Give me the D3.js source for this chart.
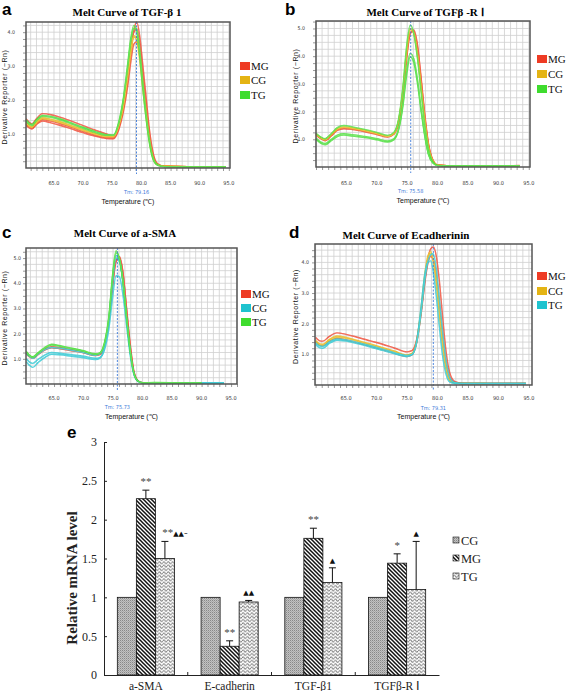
<!DOCTYPE html>
<html><head><meta charset="utf-8">
<script src="https://cdn.jsdelivr.net/npm/d3@7"></script>
<style>body{margin:0;background:#fff}svg{display:block}</style>
</head><body><svg id="chart" width="567" height="691"></svg>
<script>
// ---------------- DATA ----------------
const meltGroups = ["MG", "CG", "TG"];
const meltXTicks = [65, 70, 75, 80, 85, 90, 95];

// Panel a : TGF-β1
const tempA = [60.2,61.2,62.0,63.0,64.5,66,68,70,72,74,75.2,76.1,76.9,77.6,78.2,78.7,79.2,79.7,80.2,80.8,81.4,82,82.8,84,88,94.5];
const meltA_MG = [
  [1.45,1.30,1.45,1.60,1.57,1.50,1.38,1.25,1.12,1.00,0.95,1.20,1.75,2.50,3.40,4.05,4.30,3.90,3.10,2.10,1.10,0.45,0.12,0.05,0.04,null],
  [1.25,1.15,1.28,1.38,1.33,1.26,1.15,1.04,0.94,0.87,0.86,1.12,1.65,2.35,3.15,3.65,3.72,3.35,2.55,1.65,0.82,0.30,0.09,0.05,0.04,null],
  [1.30,1.18,1.32,1.42,1.38,1.31,1.20,1.08,0.97,0.90,0.90,1.18,1.78,2.60,3.50,4.00,4.10,3.62,2.80,1.85,0.95,0.38,0.10,0.05,0.04,null]
];
const meltA_CG = [
  [1.35,1.22,1.35,1.48,1.44,1.37,1.25,1.13,1.02,0.94,0.93,1.25,1.85,2.70,3.50,3.90,3.75,3.20,2.40,1.50,0.75,0.28,0.09,0.05,0.04,0.04],
  [1.32,1.20,1.33,1.45,1.41,1.34,1.22,1.10,1.00,0.92,0.92,1.22,1.80,2.60,3.40,3.85,3.85,3.40,2.60,1.70,0.85,0.32,0.10,0.05,0.04,0.04]
];
const meltA_TG = [
  [1.42,1.28,1.42,1.55,1.52,1.45,1.33,1.20,1.08,0.98,0.97,1.35,2.05,3.00,3.85,4.20,4.00,3.30,2.40,1.45,0.70,0.25,0.08,0.04,0.03,0.03],
  [1.38,1.25,1.40,1.52,1.49,1.42,1.30,1.17,1.05,0.96,0.96,1.30,2.00,2.90,3.75,4.10,4.10,3.50,2.60,1.60,0.80,0.30,0.09,0.04,0.03,0.03]
];

// Panel b : TGFβ-RⅠ
const tempB = [60,60.8,61.5,62.5,63.5,64.6,66,68,70,71.8,72.8,73.6,74.3,74.9,75.5,76.1,76.7,77.3,77.9,78.5,79.2,80,82,86,90,93.5];
const meltB_MG = [
  [1.18,1.05,0.98,1.15,1.35,1.42,1.38,1.30,1.20,1.10,1.20,1.65,2.70,4.00,4.85,4.90,4.30,3.10,1.80,0.80,0.25,0.07,0.04,0.04,0.04,0.06],
  [1.15,1.02,0.95,1.12,1.32,1.38,1.35,1.27,1.17,1.08,1.18,1.60,2.60,3.90,4.80,4.95,4.40,3.20,1.90,0.85,0.27,0.07,0.04,0.04,0.04,0.05]
];
const meltB_CG = [
  [1.20,1.06,1.00,1.18,1.38,1.45,1.41,1.33,1.22,1.12,1.22,1.70,2.80,4.20,5.00,4.80,4.00,2.80,1.60,0.70,0.22,0.06,0.04,0.04,0.04,null],
  [1.17,1.04,0.98,1.16,1.36,1.43,1.39,1.31,1.20,1.10,1.20,1.68,2.75,4.10,4.95,4.85,4.10,2.90,1.70,0.75,0.24,0.07,0.04,0.04,0.04,null]
];
const meltB_TG = [
  [1.22,1.08,1.02,1.20,1.42,1.50,1.45,1.36,1.25,1.14,1.25,1.75,2.90,4.35,5.12,4.80,3.90,2.70,1.50,0.65,0.20,0.06,0.04,0.04,0.04,0.04],
  [1.00,0.85,0.80,0.95,1.10,1.15,1.12,1.06,0.98,0.90,0.98,1.35,2.20,3.30,3.98,3.75,3.00,2.00,1.10,0.45,0.15,0.05,0.04,0.04,0.04,0.04],
  [1.05,0.90,0.85,1.00,1.15,1.20,1.17,1.10,1.02,0.94,1.02,1.40,2.30,3.50,4.10,3.90,3.15,2.10,1.15,0.48,0.16,0.05,0.04,0.04,0.04,0.04]
];

// Panel c : a-SMA
const tempC = [60.3,60.8,61.4,62.3,63.4,64.6,66,68,70,72,72.8,73.6,74.3,74.9,75.5,76.1,76.7,77.3,77.9,78.5,79.2,80,82,86,90,93.8];
const meltC_MG = [
  [1.25,1.12,1.05,1.20,1.38,1.48,1.44,1.36,1.27,1.16,1.20,1.60,2.50,3.90,4.90,5.05,4.40,3.00,1.60,0.55,0.14,0.05,0.04,0.04,0.04,null],
  [1.20,1.08,1.02,1.16,1.34,1.44,1.40,1.32,1.24,1.13,1.17,1.55,2.40,3.80,4.85,5.00,4.35,2.90,1.50,0.50,0.12,0.05,0.04,0.04,null,null]
];
const meltC_CG = [
  [1.22,1.10,1.02,1.18,1.36,1.45,1.42,1.34,1.25,1.14,1.20,1.62,2.60,4.10,5.10,4.90,4.00,2.60,1.30,0.45,0.12,0.05,0.04,0.04,0.04,0.04],
  [1.00,0.88,0.82,0.98,1.15,1.25,1.22,1.16,1.10,1.02,1.06,1.40,2.20,3.40,4.30,4.25,3.50,2.30,1.15,0.40,0.10,0.04,0.04,0.04,0.04,0.04],
  [0.88,0.75,0.66,0.85,1.05,1.18,1.16,1.10,1.04,0.97,1.03,1.50,2.50,4.00,5.00,4.85,4.00,2.60,1.30,0.45,0.12,0.05,0.04,0.04,0.04,0.04]
];
const meltC_TG = [
  [1.30,1.15,1.08,1.25,1.45,1.58,1.52,1.42,1.32,1.20,1.25,1.70,2.70,4.30,5.28,4.95,4.00,2.60,1.30,0.45,0.12,0.05,0.04,0.04,0.04,null],
  [1.27,1.13,1.06,1.22,1.42,1.55,1.50,1.40,1.30,1.18,1.23,1.65,2.65,4.20,5.20,4.95,4.05,2.65,1.35,0.47,0.12,0.05,0.06,0.05,0.04,null]
];

// Panel d : E-cadherin
const tempD = [60,60.6,61.2,62.2,63.5,65,67,69,71,73,75,75.8,76.6,77.3,77.9,78.4,78.9,79.3,79.8,80.3,80.8,81.4,82,82.8,84,88,94.5];
const meltD_MG = [
  [1.55,1.45,1.43,1.58,1.70,1.65,1.55,1.44,1.33,1.20,1.08,1.12,1.50,2.40,3.40,4.10,4.45,4.50,4.20,3.40,2.30,1.10,0.40,0.12,0.06,0.05,0.05],
  [1.40,1.30,1.28,1.42,1.52,1.47,1.37,1.26,1.15,1.03,0.93,0.98,1.40,2.30,3.30,3.95,4.20,4.10,3.60,2.70,1.70,0.75,0.25,0.08,0.05,0.05,0.05]
];
const meltD_CG = [
  [1.45,1.35,1.33,1.48,1.60,1.55,1.45,1.34,1.22,1.10,0.98,1.03,1.45,2.50,3.60,4.20,4.35,4.00,3.30,2.30,1.30,0.50,0.15,0.06,0.05,0.05,0.05],
  [1.42,1.32,1.30,1.45,1.56,1.52,1.42,1.31,1.20,1.08,0.96,1.01,1.42,2.40,3.50,4.10,4.30,4.10,3.50,2.50,1.50,0.60,0.18,0.07,0.05,0.05,null]
];
const meltD_TG = [
  [1.32,1.22,1.20,1.35,1.46,1.43,1.34,1.24,1.13,1.02,0.93,0.98,1.45,2.55,3.60,4.00,4.05,3.70,2.90,1.90,1.00,0.35,0.10,0.05,0.05,0.05,0.05],
  [1.38,1.28,1.26,1.40,1.50,1.47,1.38,1.28,1.17,1.05,0.96,1.00,1.40,2.35,3.40,4.00,4.25,4.28,3.80,2.80,1.80,0.80,0.25,0.08,0.05,0.05,0.05]
];

// Panel e : relative mRNA levels
const barCategories = ["a-SMA", "E-cadherin", "TGF-β1", "TGFβ-R Ⅰ"];
const barGroups = ["CG", "MG", "TG"];
const valuesCG = [1, 1, 1, 1];
const valuesMG = [2.27, 0.37, 1.76, 1.44];
const valuesTG = [1.50, 0.94, 1.19, 1.10];
const errCG = [0, 0, 0, 0];
const errMG = [0.11, 0.07, 0.13, 0.12];
const errTG = [0.22, 0.02, 0.19, 0.62];
const signifMG = ["**", "**", "**", "*"];
const signifTG = ["**▲▲-", "▲▲", "▲", "▲"];
const barYTicks = [0, 0.5, 1, 1.5, 2, 2.5, 3];
const barYTickLabels = ["0", "0.5", "1", "1.5", "2", "2.5", "3"];

// ---------------- DRAWING ----------------
const svg = d3.select("#chart");
const RED = "#ee3b24", ORANGE = "#e4b414", GREEN = "#3fdc2e", CYAN = "#1fc3cf";

const panels = [
  {letter:"a", lx:2, ly:15, title:"Melt Curve of TGF-β 1", tx:127, ty:16,
   temps:tempA, curves:[meltA_MG, meltA_CG, meltA_TG], colors:[RED, ORANGE, GREEN],
   tm:79.16, left:26, right:230, top:22, bottom:168, xd:[60.2,95.2], yd:[0,4.3], yTicks:[1,2,3,4], gy:0.2,
   ylabX:4, tickLabX:15, xlabY:185, tmY:194, tempY:204, legX:240, legY:[62,76,91]},
  {letter:"b", lx:285, ly:15, title:"Melt Curve of TGFβ -R Ⅰ", tx:425, ty:16,
   temps:tempB, curves:[meltB_MG, meltB_CG, meltB_TG], colors:[RED, ORANGE, GREEN],
   tm:75.58, left:316, right:530, top:21, bottom:167, xd:[60,95.2], yd:[0,5.27], yTicks:[1,2,3,4,5], gy:0.25,
   ylabX:295, tickLabX:305, xlabY:185, tmY:193, tempY:203, legX:537, legY:[55,70,85]},
  {letter:"c", lx:2, ly:238, title:"Melt Curve of a-SMA", tx:125, ty:237,
   temps:tempC, curves:[meltC_MG, meltC_CG, meltC_TG], colors:[RED, CYAN, GREEN],
   tm:75.73, left:26, right:237, top:248, bottom:384, xd:[60.25,96], yd:[0,5.4], yTicks:[1,2,3,4,5], gy:0.25,
   ylabX:4, tickLabX:21, xlabY:400, tmY:409, tempY:419, legX:241, legY:[290,304,318]},
  {letter:"d", lx:289, ly:238, title:"Melt Curve of Ecadherinin", tx:406, ty:239,
   temps:tempD, curves:[meltD_MG, meltD_CG, meltD_TG], colors:[RED, ORANGE, CYAN],
   tm:79.31, left:315, right:532, top:244, bottom:385, xd:[59.9,95.5], yd:[0,4.6], yTicks:[1,2,3,4], gy:0.2,
   ylabX:295, tickLabX:309, xlabY:400, tmY:410, tempY:419, legX:537, legY:[272,287,301]}
];

panels.forEach(p => {
  const g = svg.append("g");
  const x = d3.scaleLinear().domain(p.xd).range([p.left, p.right]);
  const y = d3.scaleLinear().domain(p.yd).range([p.bottom, p.top]);

  g.append("text").attr("x", p.lx).attr("y", p.ly).text(p.letter)
    .attr("font-family","Liberation Sans, Arial, sans-serif").attr("font-weight","bold").attr("font-size",17);
  g.append("text").attr("x", p.tx).attr("y", p.ty).attr("text-anchor","middle").text(p.title)
    .attr("font-family","Liberation Serif, Times New Roman, serif").attr("font-weight","bold").attr("font-size",11);

  g.append("rect").attr("x",p.left).attr("y",p.top).attr("width",p.right-p.left).attr("height",p.bottom-p.top).attr("fill","#fff");
  const vx = d3.range(Math.ceil(p.xd[0]), Math.floor(p.xd[1]) + 1);
  g.append("g").selectAll("line").data(vx).join("line")
    .attr("x1", d => x(d)).attr("x2", d => x(d)).attr("y1", p.top).attr("y2", p.bottom)
    .attr("stroke","#cfcfcf").attr("stroke-width",0.8);
  const hy = d3.range(1, Math.floor(p.yd[1] / p.gy) + 1).map(i => +(i * p.gy).toFixed(3));
  g.append("g").selectAll("line").data(hy).join("line")
    .attr("x1", p.left).attr("x2", p.right).attr("y1", d => y(d)).attr("y2", d => y(d))
    .attr("stroke","#cfcfcf").attr("stroke-width",0.8);

  const xa = g.append("g").attr("transform", `translate(0,${p.bottom})`)
    .call(d3.axisBottom(x).tickValues(vx).tickSize(3).tickFormat(""));
  xa.select(".domain").remove();
  xa.selectAll("line").attr("stroke","#999");
  g.append("g").selectAll("text").data(meltXTicks).join("text")
    .attr("x", d => x(d)).attr("y", p.xlabY).attr("text-anchor","middle")
    .attr("font-family","DejaVu Sans Condensed, DejaVu Sans, sans-serif").attr("font-size",5.5).attr("fill","#333")
    .text(d => d3.format(".1f")(d));
  const ya = g.append("g").attr("transform", `translate(${p.left},0)`)
    .call(d3.axisLeft(y).tickValues(hy).tickSize(3).tickFormat(""));
  ya.select(".domain").remove();
  ya.selectAll("line").attr("stroke","#999");
  g.append("g").selectAll("text").data(p.yTicks).join("text")
    .attr("x", p.tickLabX).attr("y", d => y(d) + 2).attr("text-anchor","end")
    .attr("font-family","DejaVu Sans Condensed, DejaVu Sans, sans-serif").attr("font-size",5.2).attr("fill","#333")
    .text(d => d3.format(".1f")(d));

  const cy = (p.top + p.bottom) / 2 + 2;
  g.append("text").attr("transform", `translate(${p.ylabX + 3},${cy}) rotate(-90)`).attr("text-anchor","middle")
    .attr("font-family","Liberation Sans, Arial, sans-serif").attr("font-size",7).attr("letter-spacing",0.6).attr("fill","#111")
    .text("Derivative Reporter (−Rn)");
  g.append("text").attr("x", (p.left + p.right) / 2).attr("y", p.tempY).attr("text-anchor","middle")
    .attr("font-family","Liberation Sans, Arial, sans-serif").attr("font-size",7).attr("fill","#111")
    .text("Temperature (℃)");
  g.append("text").attr("x", x(p.tm)).attr("y", p.tmY).attr("text-anchor","middle")
    .attr("font-family","DejaVu Sans Condensed, sans-serif").attr("font-size",5.5).attr("fill","#3b78d8")
    .text("Tm: " + p.tm.toFixed(2));

  const line = d3.line().defined(d => d[1] != null).x(d => x(d[0])).y(d => y(d[1])).curve(d3.curveMonotoneX);
  p.curves.forEach((set, gi) => {
    set.forEach(vals => {
      const pts = p.temps.map((t, i) => [t, vals[i]]);
      g.append("path").attr("d", line(pts)).attr("fill","none")
        .attr("stroke", p.colors[gi]).attr("stroke-width",1.4).attr("opacity",0.9);
      g.append("path").attr("d", line(pts)).attr("fill","none")
        .attr("stroke", "#fff").attr("stroke-width",0.35).attr("opacity",0.6);
    });
  });

  g.append("line").attr("x1", x(p.tm)).attr("x2", x(p.tm)).attr("y1", p.top).attr("y2", p.bottom + 6)
    .attr("stroke","#3b78d8").attr("stroke-width",0.9).attr("stroke-dasharray","2,1.5");

  g.append("rect").attr("x",p.left).attr("y",p.top).attr("width",p.right-p.left).attr("height",p.bottom-p.top)
    .attr("fill","none").attr("stroke","#555").attr("stroke-width",1.5);

  meltGroups.forEach((name, i) => {
    g.append("rect").attr("x", p.legX).attr("y", p.legY[i]).attr("width",10).attr("height",8).attr("fill", p.colors[i]);
    g.append("text").attr("x", p.legX + 11).attr("y", p.legY[i] + 8)
      .attr("font-family","Liberation Serif, Times New Roman, serif").attr("font-size",11).attr("fill","#111").text(name);
  });
});

// ---------------- Panel e ----------------
const defs = svg.append("defs");
const pCG = defs.append("pattern").attr("id","patCG").attr("patternUnits","userSpaceOnUse").attr("width",2).attr("height",2);
pCG.append("rect").attr("width",2).attr("height",2).attr("fill","#c2c2c2");
pCG.append("rect").attr("width",1).attr("height",1).attr("fill","#888");
pCG.append("rect").attr("x",1).attr("y",1).attr("width",1).attr("height",1).attr("fill","#a8a8a8");
const pMG = defs.append("pattern").attr("id","patMG").attr("patternUnits","userSpaceOnUse").attr("width",4).attr("height",4);
pMG.append("rect").attr("width",4).attr("height",4).attr("fill","#fff");
pMG.append("path").attr("d","M-1,-1L5,5M-1,3L1,5M3,-1L5,1").attr("stroke","#111").attr("stroke-width",1.5);
const pTG = defs.append("pattern").attr("id","patTG").attr("patternUnits","userSpaceOnUse").attr("width",4.4).attr("height",3.4);
pTG.append("rect").attr("width",4.4).attr("height",3.4).attr("fill","#fff");
pTG.append("path").attr("d","M0,1.7C0.7,0.2 1.5,0.2 2.2,1.7C2.9,3.2 3.7,3.2 4.4,1.7")
  .attr("stroke","#6a6a6a").attr("stroke-width",0.9).attr("fill","none");
const fills = {CG:"url(#patCG)", MG:"url(#patMG)", TG:"url(#patTG)"};

const ge = svg.append("g");
const ex0 = d3.scaleBand().domain(barCategories).range([104, 439]).padding(0);
const ex1 = d3.scaleBand().domain(barGroups).range([0, ex0.bandwidth()]).paddingInner(0).paddingOuter(0.7);
const ey = d3.scaleLinear().domain([0, 3]).range([675, 442]);
const vals = {CG:valuesCG, MG:valuesMG, TG:valuesTG};
const errs = {CG:errCG, MG:errMG, TG:errTG};

ge.append("text").attr("x",67).attr("y",438).text("e")
  .attr("font-family","Liberation Sans, Arial, sans-serif").attr("font-weight","bold").attr("font-size",17);

const yAx = ge.append("g").attr("transform","translate(104,0)")
  .call(d3.axisLeft(ey).tickValues(barYTicks).tickSizeInner(-3).tickSizeOuter(0).tickPadding(7)
    .tickFormat((d,i) => barYTickLabels[i]));
yAx.selectAll("text").attr("font-family","Liberation Serif, Times New Roman, serif").attr("font-size",12).attr("fill","#222");
yAx.selectAll("line,path").attr("stroke","#222");

const bars = [];
barCategories.forEach((c, ci) => barGroups.forEach(gname => bars.push({c, ci, g:gname, v:vals[gname][ci], e:errs[gname][ci]})));

ge.append("g").selectAll("rect").data(bars).join("rect")
  .attr("x", d => ex0(d.c) + ex1(d.g)).attr("width", ex1.bandwidth())
  .attr("y", d => ey(d.v)).attr("height", d => ey(0) - ey(d.v))
  .attr("fill", d => fills[d.g]).attr("stroke","#111").attr("stroke-width",0.8);

const errBars = bars.filter(d => d.e > 0);
const eg = ge.append("g").attr("stroke","#111").attr("stroke-width",1);
eg.selectAll("line.v").data(errBars).join("line").attr("class","v")
  .attr("x1", d => ex0(d.c) + ex1(d.g) + ex1.bandwidth()/2).attr("x2", d => ex0(d.c) + ex1(d.g) + ex1.bandwidth()/2)
  .attr("y1", d => ey(d.v)).attr("y2", d => ey(d.v + d.e));
eg.selectAll("line.h").data(errBars).join("line").attr("class","h")
  .attr("x1", d => ex0(d.c) + ex1(d.g) + ex1.bandwidth()/2 - 3.5).attr("x2", d => ex0(d.c) + ex1(d.g) + ex1.bandwidth()/2 + 3.5)
  .attr("y1", d => ey(d.v + d.e)).attr("y2", d => ey(d.v + d.e));

const xAx = ge.append("g").attr("transform","translate(0,675)")
  .call(d3.axisBottom(ex0).tickSize(0).tickPadding(7));
xAx.selectAll("text").attr("font-family","Liberation Serif, Times New Roman, serif").attr("font-size",11.5).attr("fill","#222");
xAx.selectAll("path").attr("stroke","#222");
ge.append("g").selectAll("line").data(barCategories.slice(1)).join("line")
  .attr("x1", d => ex0(d)).attr("x2", d => ex0(d)).attr("y1", 675).attr("y2", 672).attr("stroke","#222");

// significance marks
const sigs = [];
barCategories.forEach((c, ci) => {
  sigs.push({c, g:"MG", t:signifMG[ci], top: valuesMG[ci] + errMG[ci]});
  sigs.push({c, g:"TG", t:signifTG[ci], top: valuesTG[ci] + errTG[ci]});
});
const sigText = ge.append("g").selectAll("text").data(sigs).join("text")
  .attr("x", d => ex0(d.c) + ex1(d.g) + ex1.bandwidth()/2 + (d.t.length > 3 ? 10 : 0))
  .attr("y", d => ey(d.top) - 5)
  .attr("text-anchor","middle")
  .attr("font-family","Liberation Serif, Times New Roman, serif").attr("fill","#333");
sigText.selectAll("tspan").data(d => Array.from(d.t)).join("tspan")
  .attr("font-size", ch => ch === "▲" ? 7 : 11)
  .attr("font-family", ch => ch === "▲" ? "DejaVu Sans, sans-serif" : null)
  .attr("fill", ch => ch === "▲" ? "#111" : "#444")
  .text(ch => ch);

ge.append("text").attr("transform","translate(77,578) rotate(-90)").attr("text-anchor","middle")
  .attr("font-family","Liberation Serif, Times New Roman, serif").attr("font-weight","bold").attr("font-size",15).attr("fill","#222")
  .text("Relative mRNA level");

barGroups.forEach((name, i) => {
  ge.append("rect").attr("x",453).attr("y",537 + i*18).attr("width",6).attr("height",6)
    .attr("fill", fills[name]).attr("stroke","#111").attr("stroke-width",0.6);
  ge.append("text").attr("x",461).attr("y",545 + i*18)
    .attr("font-family","Liberation Serif, Times New Roman, serif").attr("font-size",12.5).attr("fill","#222").text(name);
});
</script></body></html>
